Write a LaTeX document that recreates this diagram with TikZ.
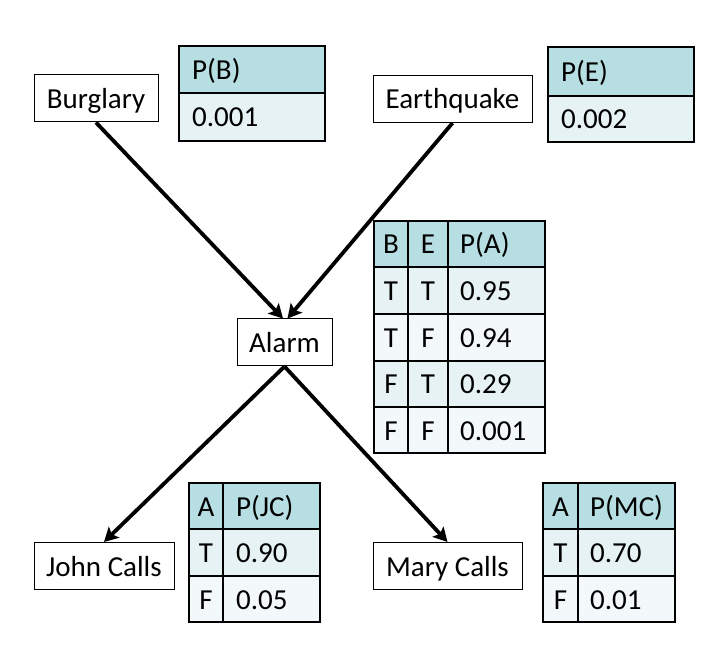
\documentclass[tikz,border=0pt]{standalone}
\usepackage{fontspec}
\setmainfont{Carlito}
\usetikzlibrary{arrows.meta}
\definecolor{headcol}{RGB}{183,222,226}
\definecolor{rowa}{RGB}{230,242,244}
\definecolor{rowb}{RGB}{243,248,250}
\begin{document}
\begin{tikzpicture}[x=1pt,y=-1pt,
  every node/.style={font=\fontsize{29}{34}\selectfont, text height=21pt, text depth=1pt, inner sep=0pt},
  varbox/.style={draw, line width=1pt, minimum height=47pt},
  link/.style={line width=3.8pt, -{Stealth[length=14pt,width=15pt,inset=3pt]}},
  tabline/.style={line width=2pt},
  cell/.style={anchor=west},
  ccell/.style={anchor=center}]
\useasboundingbox (0,0) rectangle (718,660);

% variable nodes
\node[varbox, minimum width=124pt] (burg)  at (96,98.5)   {Burglary};
\node[varbox, minimum width=159pt] (earth) at (452.5,99)  {Earthquake};
\node[varbox, minimum width=95pt]  (alarm) at (284.5,342.5) {Alarm};
\node[varbox, minimum width=140pt] (john)  at (104,566)   {John Calls};
\node[varbox, minimum width=149pt] (mary)  at (447.5,566) {Mary Calls};

% arrows
\draw[link] (burg.south) -- ([xshift=-1.5pt]alarm.north);
\draw[link] (earth.south) -- ([xshift=3pt]alarm.north);
\draw[link] (alarm.south) -- (john.north);
\draw[link] (alarm.south) -- (mary.north);

% P(B) table
\fill[headcol] (179,46) rectangle (325,93);
\fill[rowa] (179,93) rectangle (325,141);
\draw[tabline] (179,46) rectangle (325,141);
\draw[tabline] (179,93) -- (325,93);
\node[cell] (pbh) at (192,69.5) {P(B)};
\node[cell] (pbv) at (192,117) {0.001};

% P(E) table
\fill[headcol] (548,47) rectangle (694,96);
\fill[rowa] (548,96) rectangle (694,142);
\draw[tabline] (548,47) rectangle (694,142);
\draw[tabline] (548,96) -- (694,96);
\node[cell] (peh) at (561,71.5) {P(E)};
\node[cell] (pev) at (561,119) {0.002};

% P(A) table
\fill[headcol] (374,221) rectangle (545,267);
\fill[rowa] (374,267) rectangle (545,314);
\fill[rowb] (374,314) rectangle (545,361);
\fill[rowa] (374,361) rectangle (545,407);
\fill[rowb] (374,407) rectangle (545,453);
\draw[tabline] (374,221) rectangle (545,453);
\draw[tabline] (374,267) -- (545,267) (374,314) -- (545,314)
  (374,361) -- (545,361) (374,407) -- (545,407);
\draw[tabline] (408,221) -- (408,453) (448,221) -- (448,453);
\node[ccell] (pab) at (391,244) {B};
\node[ccell] (pae) at (428,244) {E};
\node[cell]  (pah) at (460,244) {P(A)};
\node[ccell] (pab1) at (391,290.5) {T};
\node[ccell] (pae1) at (428,290.5) {T};
\node[cell]  (pav1) at (460,290.5) {0.95};
\node[ccell] (pab2) at (391,337.5) {T};
\node[ccell] (pae2) at (428,337.5) {F};
\node[cell]  (pav2) at (460,337.5) {0.94};
\node[ccell] (pab3) at (391,384) {F};
\node[ccell] (pae3) at (428,384) {T};
\node[cell]  (pav3) at (460,384) {0.29};
\node[ccell] (pab4) at (391,430) {F};
\node[ccell] (pae4) at (428,430) {F};
\node[cell]  (pav4) at (460,430) {0.001};

% P(JC) table
\fill[headcol] (189,483) rectangle (320,529);
\fill[rowa] (189,529) rectangle (320,576);
\fill[rowb] (189,576) rectangle (320,622);
\draw[tabline] (189,483) rectangle (320,622);
\draw[tabline] (189,529) -- (320,529) (189,576) -- (320,576);
\draw[tabline] (223,483) -- (223,622);
\node[ccell] (jca) at (206,506) {A};
\node[cell]  (jch) at (236,506) {P(JC)};
\node[ccell] (jca1) at (206,552.5) {T};
\node[cell]  (jcv1) at (236,552.5) {0.90};
\node[ccell] (jca2) at (206,599) {F};
\node[cell]  (jcv2) at (236,599) {0.05};

% P(MC) table
\fill[headcol] (543,483) rectangle (675,529);
\fill[rowa] (543,529) rectangle (675,576);
\fill[rowb] (543,576) rectangle (675,622);
\draw[tabline] (543,483) rectangle (675,622);
\draw[tabline] (543,529) -- (675,529) (543,576) -- (675,576);
\draw[tabline] (578,483) -- (578,622);
\node[ccell] (mca) at (560.5,506) {A};
\node[cell]  (mch) at (590,506) {P(MC)};
\node[ccell] (mca1) at (560.5,552.5) {T};
\node[cell]  (mcv1) at (590,552.5) {0.70};
\node[ccell] (mca2) at (560.5,599) {F};
\node[cell]  (mcv2) at (590,599) {0.01};
\end{tikzpicture}
\end{document}
